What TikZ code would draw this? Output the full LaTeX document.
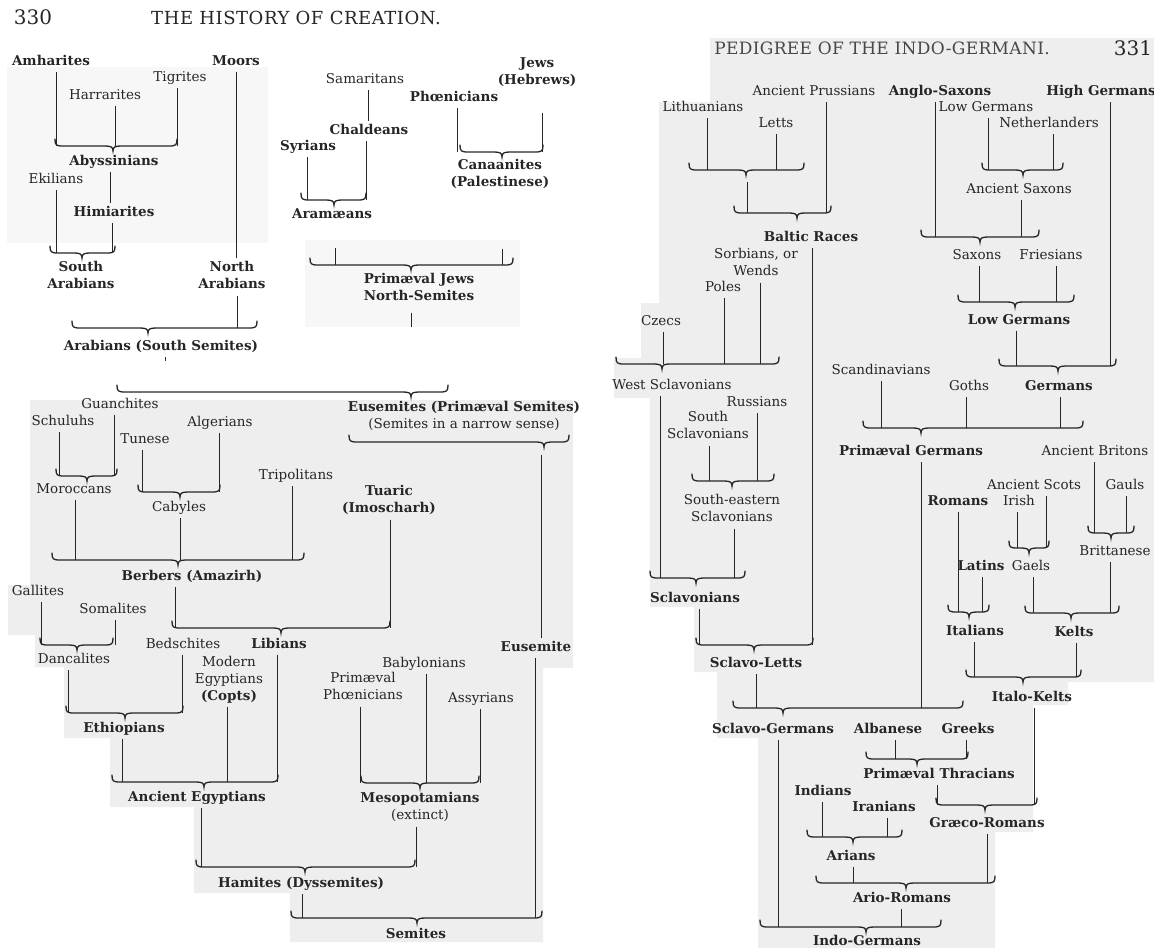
\documentclass[tikz,border=0pt]{standalone}
\usepackage{fontspec}
\setmainfont{DejaVu Serif}
\usetikzlibrary{positioning}
\definecolor{paper}{RGB}{238,238,238}
\definecolor{paperfaint}{RGB}{247,247,247}
\definecolor{ink}{RGB}{38,38,38}
\tikzset{
  tribe/.style   = {font=\fontsize{13.5}{17}\selectfont, align=center,
                    inner sep=3pt, text depth=3.5pt, text=ink},
  race/.style    = {tribe, font=\fontsize{13.5}{17}\selectfont\bfseries},
  stem/.style    = {draw=ink, line width=0.9pt},
  bracket/.style = {draw=ink, line width=1.3pt, line cap=round},
  runhead/.style = {font=\fontsize{18}{20}\selectfont\addfontfeatures{LetterSpace=3},
                    text=ink},
  runheadR/.style = {font=\fontsize{17}{19}\selectfont\addfontfeatures{LetterSpace=2},
                    text=ink!85},
  folio/.style   = {font=\fontsize{20}{22}\selectfont, text=ink}
}
% brace opening upwards: name, left x, right x, y, x of the tip
\newcommand{\kinbrace}[5]{%
  \coordinate (#1) at (#5,#4);
  \draw[bracket] (#2,#4-7) .. controls (#2,#4-1) and (#2+1,#4) .. (#2+8,#4)
    -- (#5-8,#4) .. controls (#5-2,#4) and (#5,#4+1) .. (#5,#4+5)
    .. controls (#5,#4+1) and (#5+2,#4) .. (#5+8,#4)
    -- (#3-8,#4) .. controls (#3-1,#4) and (#3,#4-1) .. (#3,#4-7);}
% vertical line from below a name down to a brace (or node)
\newcommand{\stem}[3][xshift=0pt]{%
  \draw[stem] ([#1]#2.south) coordinate (stemtop) -- (stemtop |- #3);}

\begin{document}
\begin{tikzpicture}[x=1pt, y=-1pt]
\useasboundingbox (0,0) rectangle (1154,948);

%% Paper patches of the pasted scans
\fill[paperfaint] (7,67) rectangle (268,243);
\fill[paperfaint] (305,240) rectangle (520,327);
\fill[paper] (30,400) -- (573,400) -- (573,668) -- (543,668) -- (543,942)
  -- (290,942) -- (290,893) -- (194,893) -- (194,807) -- (110,807)
  -- (110,738) -- (64,738) -- (64,667) -- (35,667) -- (35,635)
  -- (8,635) -- (8,585) -- (30,585) -- cycle;
\fill[paper] (710,38) -- (1154,38) -- (1154,682) -- (1068,682) -- (1068,705)
  -- (1033,705) -- (1033,832) -- (995,832) -- (995,948) -- (758,948)
  -- (758,738) -- (717,738) -- (717,672) -- (694,672) -- (694,607)
  -- (650,607) -- (650,398) -- (614,398) -- (614,358) -- (641,358)
  -- (641,303) -- (659,303) -- (659,102) -- (710,102) -- cycle;

%% Running heads
\node[folio]    (folioL) at (33,17)   {330};
\node[runhead]  (headL)  at (296,18)  {THE HISTORY OF CREATION.};
\node[runheadR] (headR)  at (882,48)  {PEDIGREE OF THE INDO-GERMANI.};
\node[folio]    (folioR) at (1133,48) {331};

%% Arabians and North-Semites
\node[race]  (amh)   at (51,62)   {Amharites};
\node[race]  (moor)  at (236,62)  {Moors};
\node[tribe] (tig)   at (180,78)  {Tigrites};
\node[tribe] (har)   at (105,96)  {Harrarites};
\node[race]  (aby)   at (114,162) {Abyssinians};
\node[tribe] (eki)   at (56,180)  {Ekilians};
\node[race]  (him)   at (114,213) {Himiarites};
\node[race]  (sarab) at (81,277)  {South\\Arabians};
\node[race]  (narab) at (232,277) {North\\Arabians};
\node[race]  (arab)  at (161,347) {Arabians (South Semites)};
\node[tribe] (sam)   at (365,80)  {Samaritans};
\node[race]  (chal)  at (369,131) {Chaldeans};
\node[race]  (syr)   at (308,147) {Syrians};
\node[race]  (aram)  at (332,215) {Aramæans};
\node[race]  (jews)  at (537,73)  {Jews\\(Hebrews)};
\node[race]  (phoe)  at (454,98)  {Phœnicians};
\node[race]  (cana)  at (500,175) {Canaanites\\(Palestinese)};
\node[race]  (pjews) at (419,289) {Primæval Jews\\North-Semites};
\coordinate (arabcut) at (165,361);
\coordinate (semcut)  at (411,327);

\kinbrace{b-aby}{55}{177}{146}{113}
\kinbrace{b-sarab}{50}{115}{253}{82}
\kinbrace{b-arab}{72}{257}{328}{148}
\kinbrace{b-aram}{301}{366}{200}{334}
\kinbrace{b-cana}{460}{543}{152}{502}
\kinbrace{b-pjews}{310}{513}{265}{411}

\stem[xshift=5pt]{amh}{b-aby}
\stem[xshift=10pt]{har}{b-aby}
\stem[xshift=-3pt]{tig}{b-aby}
\stem[xshift=-4pt]{aby}{him.north}
\stem{eki}{b-sarab}
\stem[xshift=-2pt]{him}{b-sarab}
\stem{moor}{narab.north}
\stem[xshift=5pt]{narab}{b-arab}
\stem[xshift=4pt]{arab}{arabcut}
\stem[xshift=3pt]{sam}{chal.north}
\stem[xshift=-3pt]{chal}{b-aram}
\stem[xshift=-1pt]{syr}{b-aram}
\stem[xshift=3pt]{phoe}{b-cana}
\stem[xshift=5pt,yshift=-22pt]{jews}{b-cana}
\stem[xshift=3pt,yshift=-23pt]{aram}{b-pjews}
\stem[xshift=2pt,yshift=-55pt]{cana}{b-pjews}
\stem[xshift=-8pt,yshift=-5pt]{pjews}{semcut}

%% Hamites and Eusemites
\node[race]  (euse)  at (464,417) {Eusemites (Primæval Semites)\\{\mdseries (Semites in a narrow sense)}};
\node[tribe] (guan)  at (120,405) {Guanchites};
\node[tribe] (schu)  at (63,422)  {Schuluhs};
\node[tribe] (alg)   at (220,423) {Algerians};
\node[tribe] (tun)   at (145,440) {Tunese};
\node[tribe] (trip)  at (296,476) {Tripolitans};
\node[tribe] (moro)  at (74,490)  {Moroccans};
\node[tribe] (caby)  at (179,508) {Cabyles};
\node[race]  (tuar)  at (389,501) {Tuaric\\(Imoscharh)};
\node[race]  (berb)  at (192,577) {Berbers (Amazirh)};
\node[tribe] (gall)  at (38,592)  {Gallites};
\node[tribe] (soma)  at (113,610) {Somalites};
\node[race]  (liby)  at (279,645) {Libians};
\node[tribe] (danc)  at (74,660)  {Dancalites};
\node[tribe] (beds)  at (183,645) {Bedschites};
\node[tribe] (copt)  at (229,680) {Modern\\Egyptians\\{\bfseries (Copts)}};
\node[race]  (ethi)  at (124,729) {Ethiopians};
\node[tribe] (baby)  at (424,664) {Babylonians};
\node[tribe] (pphoe) at (363,688) {Primæval\\Phœnicians};
\node[tribe] (assy)  at (481,699) {Assyrians};
\node[race]  (aegy)  at (197,798) {Ancient Egyptians};
\node[race]  (meso)  at (420,808) {Mesopotamians\\{\mdseries (extinct)}};
\node[race]  (eusem) at (536,648) {Eusemite};
\node[race]  (hami)  at (301,884) {Hamites (Dyssemites)};
\node[race]  (semi)  at (416,935) {Semites};

\kinbrace{b-euse}{117}{448}{392}{411}
\kinbrace{b-euse2}{349}{569}{442}{544}
\kinbrace{b-moro}{56}{117}{476}{87}
\kinbrace{b-caby}{138}{220}{492}{180}
\kinbrace{b-berb}{52}{304}{560}{178}
\kinbrace{b-liby}{172}{390}{628}{281}
\kinbrace{b-danc}{40}{113}{645}{77}
\kinbrace{b-ethi}{66}{183}{713}{125}
\kinbrace{b-aegy}{112}{278}{782}{204}
\kinbrace{b-meso}{361}{479}{783}{420}
\kinbrace{b-hami}{196}{415}{867}{305}
\kinbrace{b-semi}{291}{542}{918}{417}

\draw[stem] ([xshift=-3pt,yshift=-13pt]b-euse2) coordinate (stemtop) -- (stemtop |- eusem.north);
\stem[xshift=-1pt]{eusem}{b-semi}
\stem[xshift=-4pt]{schu}{b-moro}
\stem[xshift=-6pt]{guan}{b-moro}
\stem[xshift=-3pt]{tun}{b-caby}
\stem[xshift=-1pt]{alg}{b-caby}
\stem[xshift=1pt]{moro}{b-berb}
\stem[xshift=1pt]{caby}{b-berb}
\stem[xshift=-4pt]{trip}{b-berb}
\stem[xshift=1pt]{tuar}{b-liby}
\stem[xshift=-17pt]{berb}{b-liby}
\stem[xshift=3pt]{gall}{b-danc}
\stem[xshift=2pt]{soma}{b-danc}
\stem[xshift=-6pt]{danc}{b-ethi}
\stem[xshift=-1pt]{beds}{b-ethi}
\stem[xshift=-2pt]{liby}{b-aegy}
\stem[xshift=-2pt]{copt}{b-aegy}
\stem[xshift=-2pt]{ethi}{b-aegy}
\stem[xshift=-3pt]{pphoe}{b-meso}
\stem[xshift=2pt]{baby}{b-meso}
\stem[xshift=-1pt]{assy}{b-meso}
\stem[xshift=4pt]{aegy}{b-hami}
\stem[xshift=-4pt]{meso}{b-hami}
\stem[xshift=1pt]{hami}{b-semi}

%% Indo-Germans
\node[tribe] (apru)   at (814,92)   {Ancient Prussians};
\node[race]  (angl)   at (940,92)   {Anglo-Saxons};
\node[race]  (hgerm)  at (1101,92)  {High Germans};
\node[tribe] (lith)   at (703,108)  {Lithuanians};
\node[tribe] (lgerm1) at (986,108)  {Low Germans};
\node[tribe] (lett)   at (776,124)  {Letts};
\node[tribe] (neth)   at (1049,124) {Netherlanders};
\node[tribe] (asax)   at (1019,190) {Ancient Saxons};
\node[race]  (balt)   at (811,238)  {Baltic Races};
\node[tribe] (saxo)   at (977,256)  {Saxons};
\node[tribe] (fries)  at (1051,256) {Friesians};
\node[tribe] (sorb)   at (756,264)  {Sorbians, or\\Wends};
\node[tribe] (pole)   at (723,288)  {Poles};
\node[race]  (lgerm)  at (1019,321) {Low Germans};
\node[tribe] (czec)   at (661,322)  {Czecs};
\node[tribe] (scand)  at (881,371)  {Scandinavians};
\node[tribe] (wsla)   at (672,386)  {West Sclavonians};
\node[tribe] (goth)   at (969,387)  {Goths};
\node[race]  (germ)   at (1059,387) {Germans};
\node[tribe] (russ)   at (757,403)  {Russians};
\node[tribe] (ssla)   at (708,427)  {South\\Sclavonians};
\node[race]  (pgerm)  at (911,452)  {Primæval Germans};
\node[tribe] (abrit)  at (1095,452) {Ancient Britons};
\node[tribe] (ascot)  at (1034,486) {Ancient Scots};
\node[tribe] (gaul)   at (1125,486) {Gauls};
\node[race]  (roma)   at (958,502)  {Romans};
\node[tribe] (iris)   at (1019,502) {Irish};
\node[tribe] (sesla)  at (732,510)  {South-eastern\\Sclavonians};
\node[tribe] (britt)  at (1115,552) {Brittanese};
\node[race]  (lati)   at (981,567)  {Latins};
\node[tribe] (gael)   at (1031,567) {Gaels};
\node[race]  (sclav)  at (695,599)  {Sclavonians};
\node[race]  (ital)   at (975,632)  {Italians};
\node[race]  (kelt)   at (1074,633) {Kelts};
\node[race]  (sclet)  at (756,664)  {Sclavo-Letts};
\node[race]  (itke)   at (1032,698) {Italo-Kelts};
\node[race]  (sger)   at (773,730)  {Sclavo-Germans};
\node[race]  (alba)   at (888,730)  {Albanese};
\node[race]  (gree)   at (968,730)  {Greeks};
\node[race]  (pthr)   at (939,775)  {Primæval Thracians};
\node[race]  (indi)   at (823,792)  {Indians};
\node[race]  (iran)   at (884,808)  {Iranians};
\node[race]  (grro)   at (987,824)  {Græco-Romans};
\node[race]  (aria)   at (851,857)  {Arians};
\node[race]  (arro)   at (902,899)  {Ario-Romans};
\node[race]  (indo)   at (867,942)  {Indo-Germans};

\kinbrace{b-lith}{689}{804}{170}{746}
\kinbrace{b-balt}{734}{831}{213}{797}
\kinbrace{b-asax}{982}{1063}{170}{1023}
\kinbrace{b-saxo}{921}{1039}{237}{980}
\kinbrace{b-lgerm}{958}{1074}{302}{1015}
\kinbrace{b-germ}{999}{1116}{366}{1058}
\kinbrace{b-wsla}{616}{779}{364}{662}
\kinbrace{b-pgerm}{863}{1083}{428}{921}
\kinbrace{b-sesla}{692}{774}{481}{732}
\kinbrace{b-sclav}{650}{745}{578}{696}
\kinbrace{b-sclet}{696}{813}{645}{754}
\kinbrace{b-britt}{1088}{1134}{533}{1111}
\kinbrace{b-gael}{1009}{1049}{548}{1029}
\kinbrace{b-ital}{948}{989}{612}{969}
\kinbrace{b-kelt}{1025}{1119}{613}{1071}
\kinbrace{b-itke}{966}{1081}{677}{1023}
\kinbrace{b-sger}{733}{963}{708}{783}
\kinbrace{b-pthr}{866}{968}{759}{917}
\kinbrace{b-grro}{936}{1037}{805}{985}
\kinbrace{b-aria}{807}{902}{837}{853}
\kinbrace{b-arro}{816}{995}{883}{906}
\kinbrace{b-indo}{760}{941}{927}{866}

\stem[xshift=4pt]{lith}{b-lith}
\stem{lett}{b-lith}
\draw[stem] ([xshift=1pt,yshift=-12pt]b-lith) coordinate (stemtop) -- (stemtop |- b-balt);
\stem[xshift=12pt]{apru}{b-balt}
\stem[xshift=-5pt]{angl}{b-saxo}
\stem[xshift=2pt]{lgerm1}{b-asax}
\stem[xshift=4pt]{neth}{b-asax}
\stem[xshift=2pt]{asax}{b-saxo}
\stem[xshift=2pt]{saxo}{b-lgerm}
\stem[xshift=5pt]{fries}{b-lgerm}
\stem[xshift=-3pt]{lgerm}{b-germ}
\stem[xshift=9pt]{hgerm}{b-germ}
\stem[xshift=1pt]{balt}{b-sclet}
\stem[xshift=1pt]{pole}{b-wsla}
\stem[xshift=4pt]{sorb}{b-wsla}
\stem[xshift=2pt]{czec}{b-wsla}
\stem[xshift=-12pt]{wsla}{b-sclav}
\stem{scand}{b-pgerm}
\stem[xshift=-3pt]{goth}{b-pgerm}
\stem[xshift=1pt]{germ}{b-pgerm}
\stem[xshift=1pt]{ssla}{b-sesla}
\stem{russ}{b-sesla}
\stem[xshift=2pt]{sesla}{b-sclav}
\stem[xshift=4pt]{sclav}{b-sclet}
\stem[xshift=10pt]{pgerm}{b-sger}
\stem[xshift=-1pt]{abrit}{b-britt}
\stem[xshift=1pt]{gaul}{b-britt}
\stem[xshift=-2pt]{iris}{b-gael}
\stem[xshift=12pt]{ascot}{b-gael}
\stem{roma}{b-ital}
\stem[xshift=1pt]{lati}{b-ital}
\stem[xshift=2pt]{gael}{b-kelt}
\stem[xshift=-5pt]{britt}{b-kelt}
\stem[xshift=-1pt]{ital}{b-itke}
\stem[xshift=2pt]{kelt}{b-itke}
\stem{sclet}{b-sger}
\stem[xshift=2pt]{itke}{b-grro}
\stem[xshift=7pt]{alba}{b-pthr}
\stem[xshift=-2pt]{gree}{b-pthr}
\stem[xshift=-2pt]{pthr}{b-grro}
\stem[xshift=-1pt]{indi}{b-aria}
\stem[xshift=3pt]{iran}{b-aria}
\stem[xshift=2pt]{aria}{b-arro}
\stem{grro}{b-arro}
\stem[xshift=5pt]{sger}{b-indo}
\stem[xshift=-1pt]{arro}{b-indo}

\end{tikzpicture}
\end{document}
